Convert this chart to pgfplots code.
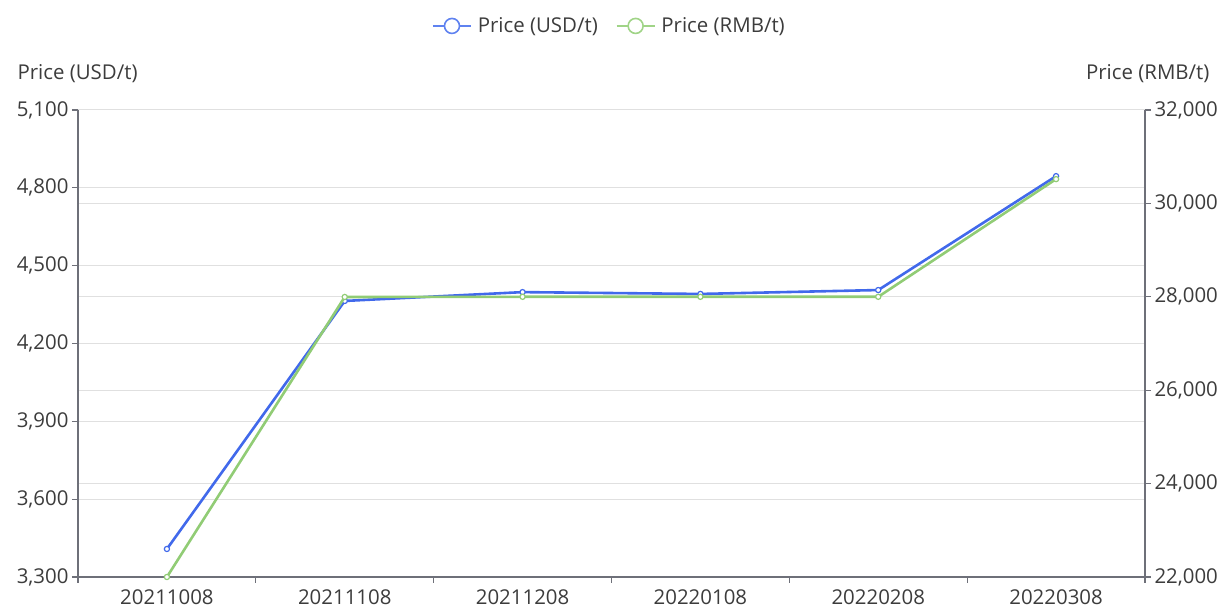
\documentclass[border=0pt]{standalone}
\usepackage{fontspec}
\setmainfont{Open Sans}
\usepackage{pgfplots}
\pgfplotsset{compat=1.18}
\definecolor{cblue}{RGB}{65,105,235}
\definecolor{cgreen}{RGB}{145,204,117}
\definecolor{lblue}{RGB}{95,130,240}
\definecolor{lgreen}{RGB}{160,212,135}
\definecolor{caxis}{RGB}{110,112,121}
\definecolor{cgrid}{RGB}{224,224,224}
\definecolor{ctext}{RGB}{60,60,60}
\pgfplotsset{
  common/.style={
    set layers,
    scale only axis, width=1067bp, height=467bp,
    xmin=-0.5, xmax=5.5,
    font=\fontsize{20.5}{24}\selectfont,
    /pgf/number format/assume math mode=true,
    /pgf/number format/1000 sep={,},
    scaled y ticks=false,
    ymajorgrids, grid style={cgrid, line width=1bp},
    axis line style={caxis, line width=1.3bp, -},
    tick style={caxis, line width=1.3bp},
    tick align=outside, major tick length=6bp,
    ticklabel style={text=ctext},
    clip=false,
  },
  lgimg/.style={legend image code/.code={
      \draw[line width=1.6bp] (0bp,0bp) -- (38bp,0bp);
      \draw[line width=1.6bp, fill=white] (19bp,0bp) circle (7.5bp);}},
}
\begin{document}
\begin{tikzpicture}
\begin{axis}[common,
  axis x line*=bottom, axis y line*=left,
  ymin=3300, ymax=5100, ytick={3300,3600,...,5100},
  xtick={-0.5,0.5,1.5,2.5,3.5,4.5,5.5},
  xticklabels={20211008,20211108,20211208,20220108,20220208,20220308},
  x tick label as interval,
  xticklabel style={yshift=-3bp},
  legend columns=2,
  legend style={draw=none, fill=none, at={(0.5,1.18)}, anchor=center,
    font=\fontsize{20.5}{24}\selectfont, text=ctext,
    nodes={inner xsep=6bp},
    /tikz/every even column/.append style={column sep=12bp}},
]
\coordinate (o) at (rel axis cs:0,0);
\addplot[cblue, line width=2.6bp, mark=*, mark size=2.6bp,
  mark options={fill=white, line width=1.2bp}, forget plot]
  coordinates {(0,3408)(1,4364)(2,4398)(3,4391)(4,4406)(5,4845)};
\addlegendimage{lblue, lgimg}
\addlegendentry{Price (USD/t)}
\addlegendimage{lgreen, lgimg}
\addlegendentry{Price (RMB/t)}
\node[anchor=west, text=ctext] at (rel axis cs:0,1) [xshift=-64bp, yshift=36bp] {Price (USD/t)};
\node[anchor=east, text=ctext] at (rel axis cs:1,1) [xshift=68bp, yshift=36bp] {Price (RMB/t)};
\end{axis}
\begin{axis}[common,
  hide x axis, axis y line*=right,
  ymin=22000, ymax=32000, ytick={22000,24000,...,32000},
]
\addplot[cgreen, line width=2.6bp, mark=*, mark size=2.6bp,
  mark options={fill=white, line width=1.2bp}]
  coordinates {(0,22000)(1,27996)(2,28000)(3,28000)(4,28000)(5,30520)};
\end{axis}
\pgfresetboundingbox
\useasboundingbox (o) ++(-78bp,-33bp) rectangle ++(1227bp,610bp);
\end{tikzpicture}
\end{document}
